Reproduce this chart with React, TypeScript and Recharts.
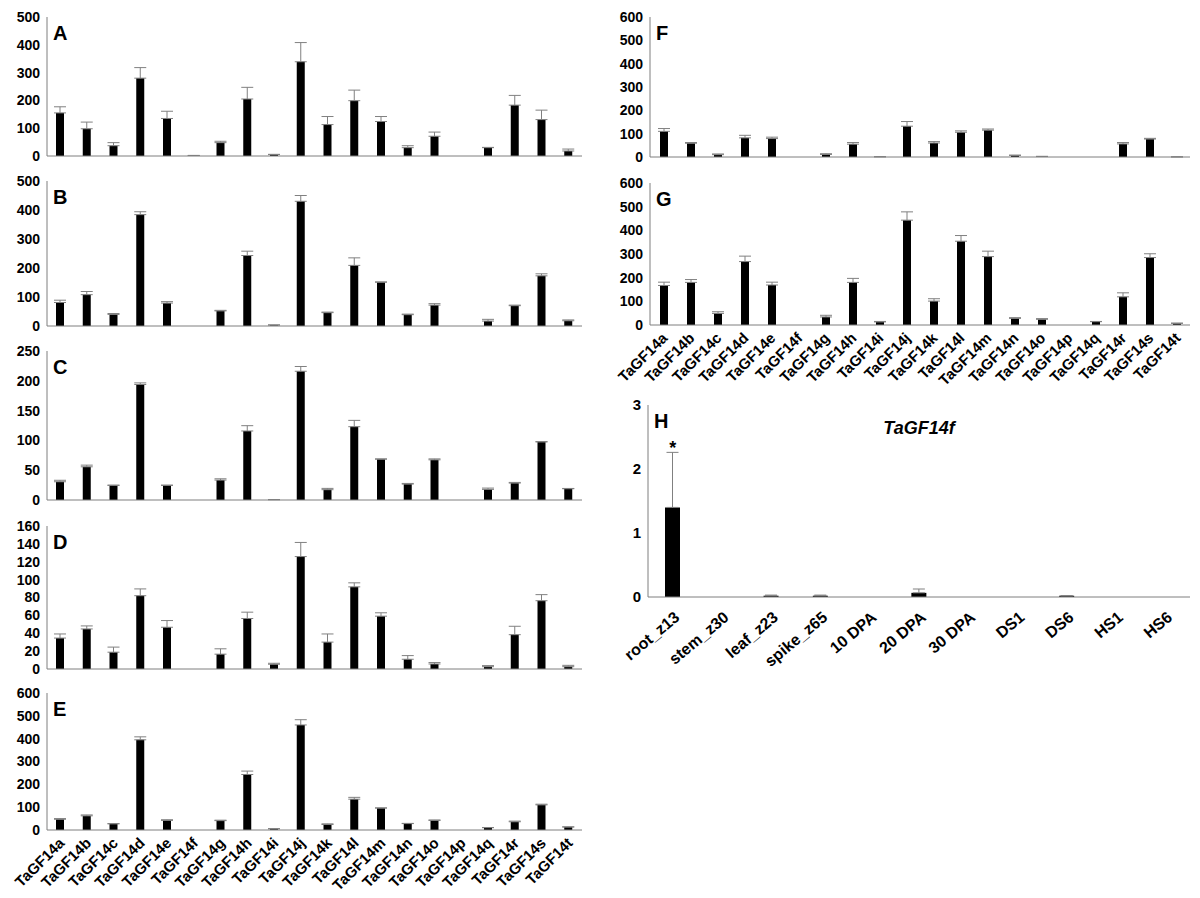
import React from 'react';
import { BarChart, Bar, XAxis, YAxis, ErrorBar, ReferenceDot } from 'recharts';

const genes = ['TaGF14a','TaGF14b','TaGF14c','TaGF14d','TaGF14e','TaGF14f','TaGF14g','TaGF14h','TaGF14i','TaGF14j','TaGF14k','TaGF14l','TaGF14m','TaGF14n','TaGF14o','TaGF14p','TaGF14q','TaGF14r','TaGF14s','TaGF14t'];

const aMean = [155, 98, 37, 280, 135, 2, 48, 205, 5, 339, 113, 199, 124, 30, 71, 0, 30, 183, 131, 18];
const aSd = [22, 24, 11, 38, 26, 0, 5, 42, 1, 69, 29, 38, 18, 7, 15, 0, 1, 35, 34, 7];

const bMean = [81, 108, 40, 384, 79, 0, 52, 243, 3, 430, 46, 209, 151, 39, 72, 0, 17, 70, 173, 18];
const bSd = [8, 11, 3, 10, 5, 0, 2, 15, 1, 20, 2, 26, 1, 2, 5, 0, 6, 2, 7, 3];

const cMean = [30.6, 55.7, 24.5, 193.8, 24.5, 0, 33.4, 115.8, 0.5, 216, 17.3, 123, 68.5, 26.7, 67.4, 0, 17.8, 28.4, 97.4, 18.9];
const cSd = [2.5, 2.8, 0.5, 2.7, 0.5, 0, 2.2, 8.9, 0.2, 8, 2.2, 10.6, 0.5, 1.1, 1.6, 0, 2.2, 1.1, 0.6, 0.5];

const dMean = [34.6, 44.8, 18.8, 82, 46.7, 0, 16.6, 56.5, 5.3, 125.8, 30.1, 91.9, 59.1, 10.9, 5.6, 0, 2.6, 38.4, 76.4, 2.6];
const dSd = [4.6, 3.4, 5.7, 7.6, 7.5, 0, 6, 7.1, 1.1, 15.8, 9.1, 4.5, 3.8, 4.1, 1.6, 0, 1.2, 9.4, 6.8, 1.5];

const eMean = [47, 62, 27, 395, 42, 0, 41, 243, 5, 460, 24, 135, 96, 28, 42, 0, 10, 36, 110, 13];
const eSd = [3, 4, 1, 13, 3, 0, 2, 15, 1, 23, 3, 8, 1, 1, 2, 0, 1, 3, 3, 1];

const fMean = [110, 59, 10, 82, 79, 0, 11, 55, 1, 132, 60, 106, 115, 7, 2, 0, 0, 56, 77, 0.5];
const fSd = [12, 3, 3, 11, 6, 0, 3, 7, 0, 20, 6, 6, 5, 1, 1, 0, 0, 6, 3, 0];

const gMean = [167, 180, 49, 268, 169, 0, 34, 180, 13, 443, 101, 354, 289, 28, 24, 0, 14, 119, 285, 7];
const gSd = [14, 12, 7, 23, 12, 0, 7, 17, 2, 35, 10, 24, 23, 3, 3, 0, 1, 17, 16, 1];

const tissues = ['root_z13','stem_z30','leaf_z23','spike_z65','10 DPA','20 DPA','30 DPA','DS1','DS6','HS1','HS6'];
const hMean = [1.40, 0, 0.02, 0.02, 0, 0.065, 0, 0, 0.02, 0, 0];
const hSd = [0.86, 0, 0.01, 0.01, 0, 0.06, 0, 0, 0, 0, 0];

const ticks500 = [0, 100, 200, 300, 400, 500];
const ticks250 = [0, 50, 100, 150, 200, 250];
const ticks160 = [0, 20, 40, 60, 80, 100, 120, 140, 160];
const ticks600 = [0, 100, 200, 300, 400, 500, 600];
const ticks3 = [0, 1, 2, 3];

const FONT = '"Liberation Sans", Arial, Helvetica, sans-serif';
const GRAY = '#7f7f7f';

type Box = { x: number; y: number; w: number; h: number };
type LabelCfg = { dx: number; dy: number; rot: number; fs: number; h: number };

const makeRows = (cats: string[], mean: number[], sd: number[]) =>
  cats.map((name, i) => ({ name, v: mean[i], e: [0, sd[i]] }));

function RotTick(props: any) {
  const { x, y, payload, cfg } = props;
  const c = cfg as LabelCfg;
  return (
    <g transform={`translate(${x + c.dx},${y + c.dy})`}>
      <text x={0} y={0} transform={`rotate(${c.rot})`} textAnchor="end"
        fontSize={c.fs} fontWeight="bold" fill="#000" fontFamily={FONT}>
        {payload.value}
      </text>
    </g>
  );
}

function Panel(props: {
  box: Box; cats: string[]; mean: number[]; sd: number[]; ticks: number[];
  letter: string; labels?: LabelCfg;
  barSize: number; yw: number; tickFs?: number; star?: boolean; title?: string;
}) {
  const { box, cats, mean, sd, ticks, letter, labels, barSize, yw, tickFs = 14, star, title } = props;
  const mt = 12;
  const mr = 4;
  const xh = labels ? labels.h : 11;
  const W = yw + box.w + mr;
  const H = mt + box.h + xh;
  const data = makeRows(cats, mean, sd);
  const max = ticks[ticks.length - 1];
  return (
    <div style={{ position: 'absolute', left: box.x - yw, top: box.y - mt, width: W, height: H }}>
      <BarChart width={W} height={H} data={data} margin={{ top: mt, right: mr, left: 0, bottom: 0 }}>
        <XAxis dataKey="name" interval={0} tickLine={false} tickSize={0} tickMargin={0}
          stroke={GRAY} height={xh}
          tick={labels ? (p: any) => <RotTick {...p} cfg={labels} /> : false} />
        <XAxis xAxisId="top" dataKey="name" orientation="top" tick={false} tickLine={false} height={0} stroke={GRAY} />
        <YAxis domain={[0, max]} ticks={ticks} interval={0} tickLine={false} tickSize={5} tickMargin={2}
          width={yw} stroke={GRAY} allowDataOverflow
          tick={{ fontSize: tickFs, fontWeight: 'bold', fill: '#000', fontFamily: FONT }} />
        <YAxis yAxisId="right" orientation="right" domain={[0, 1]} tick={false} tickLine={false} width={0} stroke={GRAY} />
        <Bar dataKey="v" fill="#000" barSize={barSize} isAnimationActive={false}>
          <ErrorBar dataKey="e" direction="y" width={6} stroke="#808080" strokeWidth={1} isAnimationActive={false} />
        </Bar>
        {star ? (
          <ReferenceDot x={cats[0]} y={mean[0] + sd[0]} r={0} fill="none" stroke="none"
            label={{ value: '*', position: 'top', offset: -2, fontSize: 18, fontWeight: 'bold', fill: '#000', fontFamily: FONT }} />
        ) : null}
      </BarChart>
      <div style={{ position: 'absolute', left: yw + 6, top: mt + 6, fontFamily: FONT, fontWeight: 'bold', fontSize: 20, lineHeight: '20px', color: '#000' }}>
        {letter}
      </div>
      {title ? (
        <div style={{ position: 'absolute', left: yw, width: box.w, textAlign: 'center', top: mt + 14, fontFamily: FONT, fontWeight: 'bold', fontStyle: 'italic', fontSize: 18, lineHeight: '18px', color: '#000' }}>
          {title}
        </div>
      ) : null}
    </div>
  );
}

const geneLabels: LabelCfg = { dx: 5, dy: 14, rot: -45, fs: 15, h: 68 };
const tissueLabels: LabelCfg = { dx: 8, dy: 22, rot: -40, fs: 16, h: 72 };

export default function App() {
  return (
    <div style={{ position: 'absolute', left: 0, top: 0, width: 1200, height: 898, background: '#fff' }}>
      <Panel box={{ x: 47, y: 17, w: 535, h: 139 }} cats={genes} mean={aMean} sd={aSd} ticks={ticks500} letter="A" barSize={8} yw={47} />
      <Panel box={{ x: 47, y: 181, w: 535, h: 145 }} cats={genes} mean={bMean} sd={bSd} ticks={ticks500} letter="B" barSize={8} yw={47} />
      <Panel box={{ x: 47, y: 351, w: 535, h: 149 }} cats={genes} mean={cMean} sd={cSd} ticks={ticks250} letter="C" barSize={8} yw={47} />
      <Panel box={{ x: 47, y: 526, w: 535, h: 143 }} cats={genes} mean={dMean} sd={dSd} ticks={ticks160} letter="D" barSize={8} yw={47} />
      <Panel box={{ x: 47, y: 693, w: 535, h: 137 }} cats={genes} mean={eMean} sd={eSd} ticks={ticks600} letter="E" barSize={8} yw={47} labels={geneLabels} />
      <Panel box={{ x: 650, y: 17, w: 540, h: 140 }} cats={genes} mean={fMean} sd={fSd} ticks={ticks600} letter="F" barSize={8} yw={50} />
      <Panel box={{ x: 650, y: 183, w: 540, h: 142 }} cats={genes} mean={gMean} sd={gSd} ticks={ticks600} letter="G" barSize={8} yw={50} labels={geneLabels} />
      <Panel box={{ x: 648, y: 405, w: 542, h: 192 }} cats={tissues} mean={hMean} sd={hSd} ticks={ticks3} letter="H" barSize={15} yw={50} tickFs={15} labels={tissueLabels} star title="TaGF14f" />
    </div>
  );
}
